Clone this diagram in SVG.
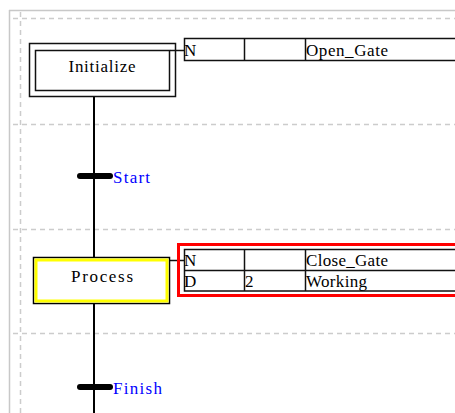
<svg xmlns="http://www.w3.org/2000/svg" width="455" height="413" viewBox="0 0 455 413">
<style>
.grid{stroke:#c8c8c8;stroke-width:1.5;fill:none}
.dash{stroke:#cccccc;stroke-width:1.5;stroke-dasharray:5 4;fill:none}
.ln{stroke:#111;stroke-width:1.5;fill:none}
.t{font-family:"Liberation Serif","Times New Roman",serif;font-size:17px;fill:#000}
.tr{font-family:"Liberation Serif","Times New Roman",serif;font-size:17px;fill:#0000ff}
.bar{stroke:#000;stroke-width:6;stroke-linecap:round}
</style>
<rect width="455" height="413" fill="#fff"/>
<g id="grid">
<line class="grid" x1="9" y1="10.5" x2="455" y2="10.5"/>
<line class="grid" x1="9.5" y1="10" x2="9.5" y2="413"/>
<line class="dash" x1="20.5" y1="12" x2="20.5" y2="413"/>
<line class="dash" x1="13" y1="18.5" x2="455" y2="18.5"/>
<line class="dash" x1="13" y1="124.5" x2="455" y2="124.5"/>
<line class="dash" x1="13" y1="229.5" x2="455" y2="229.5"/>
<line class="dash" x1="13" y1="333.5" x2="455" y2="333.5"/>
</g>
<g id="connectors">
<line x1="94" y1="97" x2="94" y2="257" stroke="#000" stroke-width="2"/>
<line x1="94" y1="304" x2="94" y2="413" stroke="#000" stroke-width="2"/>
<line class="ln" x1="170" y1="50.5" x2="185" y2="50.5"/>
<line class="ln" x1="170" y1="260.5" x2="185" y2="260.5"/>
</g>
<g id="step-initialize">
<rect class="ln" x="29.5" y="43.5" width="146" height="53"/>
<rect class="ln" x="35.5" y="50.5" width="134" height="40"/>
<text class="t" x="102" y="72" text-anchor="middle" textLength="67" lengthAdjust="spacing">Initialize</text>
</g>
<g id="action-initialize">
<rect class="ln" x="184.5" y="38.5" width="300" height="22"/>
<line class="ln" x1="244.5" y1="38.5" x2="244.5" y2="60.5"/>
<line class="ln" x1="305.5" y1="38.5" x2="305.5" y2="60.5"/>
<text class="t" x="184" y="56">N</text>
<text class="t" x="306" y="56" textLength="82" lengthAdjust="spacing">Open_Gate</text>
</g>
<g id="transition-start">
<line class="bar" x1="80" y1="176" x2="110" y2="176"/>
<text class="tr" x="113" y="183" textLength="37" lengthAdjust="spacing">Start</text>
</g>
<g id="step-process">
<rect x="33.5" y="257.5" width="136" height="46" fill="#fff" stroke="#000" stroke-width="1.5"/>
<rect x="36" y="260" width="131" height="41" fill="none" stroke="#ffff00" stroke-width="3"/>
<text class="t" x="102" y="282" text-anchor="middle" textLength="62" lengthAdjust="spacing">Process</text>
</g>
<g id="action-process">
<rect x="178.5" y="244.5" width="300" height="51" fill="none" stroke="#ff0000" stroke-width="3"/>
<rect class="ln" x="184.5" y="249.5" width="300" height="41.5"/>
<line class="ln" x1="184.5" y1="270.5" x2="455" y2="270.5"/>
<line class="ln" x1="244.5" y1="249.5" x2="244.5" y2="291"/>
<line class="ln" x1="305.5" y1="249.5" x2="305.5" y2="291"/>
<text class="t" x="184" y="266">N</text>
<text class="t" x="306" y="266" textLength="82" lengthAdjust="spacing">Close_Gate</text>
<text class="t" x="184" y="287">D</text>
<text class="t" x="245" y="287">2</text>
<text class="t" x="306" y="287" textLength="61" lengthAdjust="spacing">Working</text>
</g>
<g id="transition-finish">
<line class="bar" x1="80" y1="387" x2="110" y2="387"/>
<text class="tr" x="113" y="394" textLength="49" lengthAdjust="spacing">Finish</text>
</g>
</svg>
